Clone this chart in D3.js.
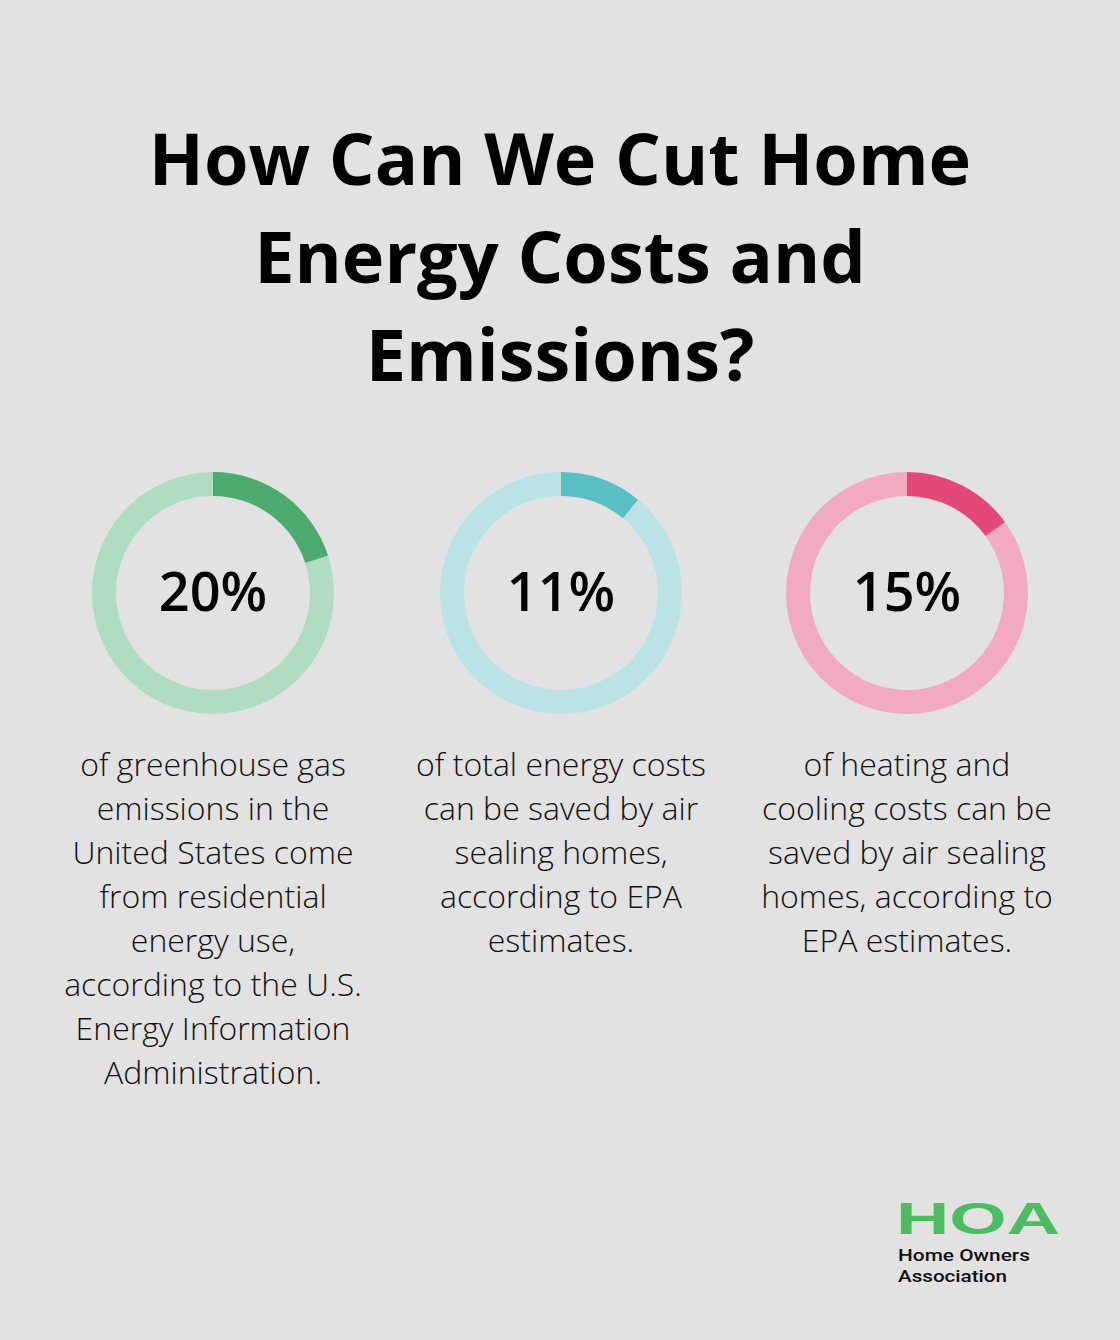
<!DOCTYPE html>
<html><head><meta charset="utf-8">
<script src="https://cdn.jsdelivr.net/npm/d3@7"></script>
<style>body{margin:0;background:#e1e2e1}</style></head>
<body><svg id="c" width="1120" height="1340"></svg>
<script>
const titleLines = ["How Can We Cut Home","Energy Costs and","Emissions?"];
const values = [20, 11, 15];
const labels = ["20%","11%","15%"];
const descriptions = [
 ["of greenhouse gas","emissions in the","United States come","from residential","energy use,","according to the U.S.","Energy Information","Administration."],
 ["of total energy costs","can be saved by air","sealing homes,","according to EPA","estimates."],
 ["of heating and","cooling costs can be","saved by air sealing","homes, according to","EPA estimates."]
];
const fgColors = ["#4daa6e","#58bfc4","#e44877"];
const bgColors = ["#b0dcc1","#bbe3e5","#f2aac0"];
const centersX = [213, 561, 907];

const svg = d3.select("#c");
svg.append("rect").attr("width",1120).attr("height",1340).attr("fill","#e1e2e1");
svg.append("g").selectAll("text").data(titleLines).join("text")
 .attr("x",560).attr("y",(d,i)=>185+i*98).attr("text-anchor","middle")
 .attr("font-family","Open Sans").attr("font-weight",700).attr("font-size",72).attr("fill","#000").text(d=>d);

const scale = d3.scaleLinear().domain([0,100]).range([0,2*Math.PI]);
const arc = d3.arc().innerRadius(97).outerRadius(121);
values.forEach((v,i)=>{
 const g = svg.append("g").attr("transform",`translate(${centersX[i]},593)`);
 g.append("path").attr("d",arc({startAngle:scale(v),endAngle:scale(100)})).attr("fill",bgColors[i]);
 g.append("path").attr("d",arc({startAngle:0,endAngle:scale(v)})).attr("fill",fgColors[i]);
 g.append("text").attr("y",18).attr("text-anchor","middle").attr("font-family","Open Sans")
  .attr("font-weight",600).attr("font-size",54).attr("fill","#000").text(labels[i]);
 svg.append("g").selectAll("text").data(descriptions[i]).join("text")
  .attr("x",centersX[i]).attr("y",(d,j)=>776+j*44).attr("text-anchor","middle")
  .attr("font-family","Open Sans").attr("font-weight",300).attr("font-size",32).attr("fill","#111").text(d=>d);
});
const logo = svg.append("g");
logo.append("text").attr("x",896).attr("y",1234).attr("font-family","Liberation Sans").attr("font-weight",700)
 .attr("font-size",44).attr("fill","#4cbc62").attr("textLength",164).attr("lengthAdjust","spacingAndGlyphs").text("HOA");
logo.append("text").attr("x",898).attr("y",1261).attr("font-family","Roboto").attr("font-weight",500)
 .attr("font-size",17).attr("fill","#111").attr("textLength",132).attr("lengthAdjust","spacingAndGlyphs").text("Home Owners");
logo.append("text").attr("x",898).attr("y",1282).attr("font-family","Roboto").attr("font-weight",500)
 .attr("font-size",17).attr("fill","#111").attr("textLength",109).attr("lengthAdjust","spacingAndGlyphs").text("Association");
</script></body></html>
